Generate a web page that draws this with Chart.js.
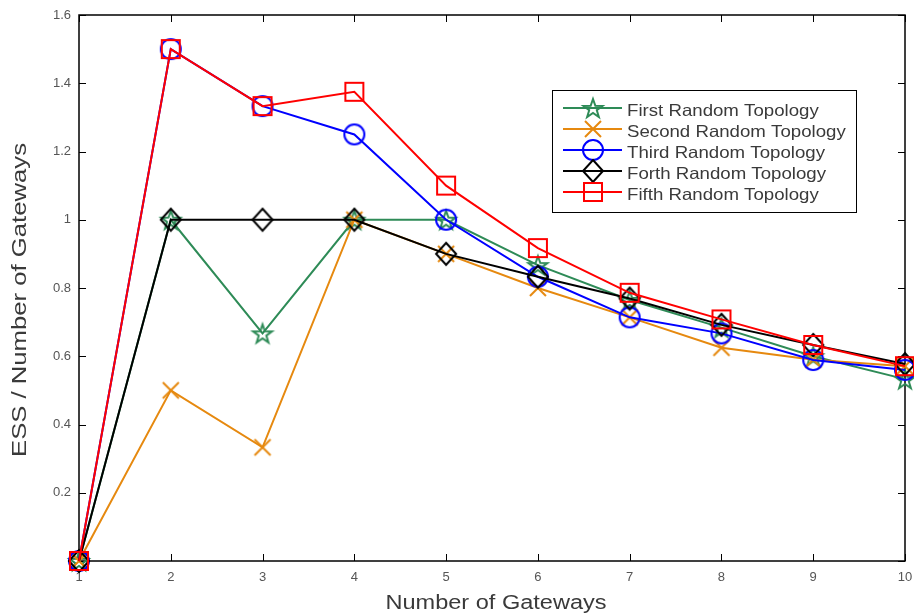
<!DOCTYPE html>
<html>
<head>
<meta charset="utf-8">
<script src="https://cdn.jsdelivr.net/npm/chart.js@4/dist/chart.umd.min.js"></script>
<style>
  html, body { margin: 0; padding: 0; background: #fff; }
  #wrap { width: 914px; height: 615px; position: relative; }
</style>
</head>
<body>
<div id="wrap"><canvas id="essChart" width="914" height="615"></canvas></div>
<script>
// ESS / number of gateways for five random topologies

const gateways = [1, 2, 3, 4, 5, 6, 7, 8, 9, 10];
const firstTopology  = [0, 1.0, 0.667, 1.0, 1.0, 0.867, 0.765, 0.684, 0.600, 0.533];
const secondTopology = [0, 0.5, 0.333, 1.0, 0.9, 0.800, 0.714, 0.625, 0.590, 0.571];
const thirdTopology  = [0, 1.5, 1.333, 1.25, 1.0, 0.833, 0.714, 0.667, 0.589, 0.560];
const forthTopology  = [0, 1.0, 1.0, 1.0, 0.9, 0.833, 0.769, 0.692, 0.633, 0.577];
const fifthTopology  = [0, 1.5, 1.333, 1.375, 1.1, 0.917, 0.786, 0.708, 0.633, 0.571];

const seriesNames = [
  "First Random Topology",
  "Second Random Topology",
  "Third Random Topology",
  "Forth Random Topology",
  "Fifth Random Topology",
];
const seriesColors = ["#2e8b57", "#e6890f", "#0000ff", "#000000", "#ff0000"];
const seriesMarkers = ["star", "cross", "circle", "diamond", "square"];
const yTicks = [0, 0.2, 0.4, 0.6, 0.8, 1, 1.2, 1.4, 1.6];
const xTitle = "Number of Gateways";
const yTitle = "ESS / Number of Gateways";

const FONT = "'Liberation Sans', Arial, sans-serif";

// hollow MATLAB-like markers drawn on small canvases
function makeMarker(kind, color) {
  const size = 26;
  const c = document.createElement("canvas");
  c.width = size;
  c.height = size;
  const g = c.getContext("2d");
  const m = size / 2;
  g.strokeStyle = color;
  g.lineWidth = 2;
  g.beginPath();
  if (kind === "star") {
    for (let i = 0; i < 10; i++) {
      const r = i % 2 === 0 ? 10 : 4;
      const a = -Math.PI / 2 + (i * Math.PI) / 5;
      const px = m + r * Math.cos(a);
      const py = m + 1 + r * Math.sin(a);
      if (i === 0) g.moveTo(px, py); else g.lineTo(px, py);
    }
    g.closePath();
  } else if (kind === "cross") {
    g.moveTo(m - 8, m - 8); g.lineTo(m + 8, m + 8);
    g.moveTo(m + 8, m - 8); g.lineTo(m - 8, m + 8);
  } else if (kind === "circle") {
    g.arc(m, m, 10, 0, Math.PI * 2);
  } else if (kind === "diamond") {
    g.moveTo(m, m - 11); g.lineTo(m + 10, m);
    g.lineTo(m, m + 11); g.lineTo(m - 10, m);
    g.closePath();
  } else {
    g.rect(m - 9, m - 9, 18, 18);
  }
  g.stroke();
  return c;
}

const seriesData = [firstTopology, secondTopology, thirdTopology, forthTopology, fifthTopology];
const markerImages = seriesMarkers.map((k, i) => makeMarker(k, seriesColors[i]));

const datasets = seriesData.map((vals, i) => ({
  label: seriesNames[i],
  data: vals.map((v, j) => ({ x: gateways[j], y: v })),
  borderColor: seriesColors[i],
  backgroundColor: seriesColors[i],
  borderWidth: 2,
  pointStyle: markerImages[i],
  pointRadius: 10,
  pointHoverRadius: 10,
  tension: 0,
  clip: false,
  order: seriesData.length - i,
}));

// text squeezed/stretched to a given width (the reference text is wide)
function wideText(ctx, text, x, y, sx) {
  ctx.save();
  ctx.translate(x, y);
  ctx.scale(sx, 1);
  ctx.fillText(text, 0, 0);
  ctx.restore();
}

// box around the plot with inward ticks on all four sides, plus axis titles
const boxPlugin = {
  id: "boxTicks",
  beforeDatasetsDraw(chart) {
    const { ctx, chartArea: a, scales } = chart;
    ctx.save();
    ctx.strokeStyle = "#000";
    ctx.lineWidth = 1.5;
    ctx.strokeRect(a.left, a.top, a.right - a.left, a.bottom - a.top);
    ctx.lineWidth = 1;
    ctx.beginPath();
    gateways.forEach((g) => {
      const px = Math.round(scales.x.getPixelForValue(g)) + 0.5;
      ctx.moveTo(px, a.bottom); ctx.lineTo(px, a.bottom - 7);
      ctx.moveTo(px, a.top); ctx.lineTo(px, a.top + 7);
    });
    yTicks.forEach((t) => {
      const py = Math.round(scales.y.getPixelForValue(t)) + 0.5;
      ctx.moveTo(a.left, py); ctx.lineTo(a.left + 7, py);
      ctx.moveTo(a.right, py); ctx.lineTo(a.right - 7, py);
    });
    ctx.stroke();

    ctx.fillStyle = "#3a3a3a";
    ctx.font = "19.5px " + FONT;
    ctx.textAlign = "center";
    ctx.textBaseline = "alphabetic";
    const wx = ctx.measureText(xTitle).width;
    wideText(ctx, xTitle, 496, 609, 221 / wx);
    const wy = ctx.measureText(yTitle).width;
    ctx.save();
    ctx.translate(26, 300);
    ctx.rotate(-Math.PI / 2);
    wideText(ctx, yTitle, 0, 0, 314 / wy);
    ctx.restore();
    ctx.restore();
  },
};

// legend box with line + marker samples, like the MATLAB legend
const legendPlugin = {
  id: "boxLegend",
  afterDraw(chart) {
    const { ctx } = chart;
    const x0 = 552, y0 = 90, w = 304, h = 122;
    ctx.save();
    ctx.fillStyle = "#fff";
    ctx.fillRect(x0, y0, w, h);
    ctx.strokeStyle = "#000";
    ctx.lineWidth = 1;
    ctx.strokeRect(x0 + 0.5, y0 + 0.5, w, h);
    ctx.font = "16.5px " + FONT;
    ctx.textBaseline = "middle";
    ctx.textAlign = "left";
    seriesNames.forEach((name, i) => {
      const cy = y0 + 18 + i * 21;
      ctx.strokeStyle = seriesColors[i];
      ctx.lineWidth = 2;
      ctx.beginPath();
      ctx.moveTo(x0 + 11, cy); ctx.lineTo(x0 + 70, cy);
      ctx.stroke();
      const img = markerImages[i];
      ctx.drawImage(img, x0 + 41 - img.width / 2, cy - img.height / 2);
      ctx.fillStyle = "#3a3a3a";
      wideText(ctx, name, x0 + 75, cy + 3, 1.13);
    });
    ctx.restore();
  },
};

const ctx = document.getElementById("essChart").getContext("2d");
new Chart(ctx, {
  type: "line",
  data: { datasets: datasets },
  options: {
    responsive: false,
    animation: false,
    devicePixelRatio: 1,
    layout: { autoPadding: false, padding: { top: 15, right: 9, left: 0, bottom: 0 } },
    plugins: { legend: { display: false }, tooltip: { enabled: false } },
    scales: {
      x: {
        type: "linear",
        min: 1,
        max: 10,
        grid: { display: false },
        border: { display: false },
        ticks: {
          stepSize: 1,
          padding: 1,
          color: "#555",
          font: { family: FONT, size: 13 },
        },
        afterFit(scale) {
          scale.height = 54;
          scale.paddingRight = 0;
          scale.paddingLeft = 0;
        },
      },
      y: {
        min: 0,
        max: 1.6,
        grid: { display: false },
        border: { display: false },
        ticks: {
          stepSize: 0.2,
          padding: 0,
          color: "#555",
          font: { family: FONT, size: 13 },
          callback: (v) => (v === 0 ? "" : String(Number(v.toFixed(1)))),
        },
        afterFit(scale) { scale.width = 79; },
      },
    },
  },
  plugins: [boxPlugin, legendPlugin],
});
</script>
</body>
</html>
